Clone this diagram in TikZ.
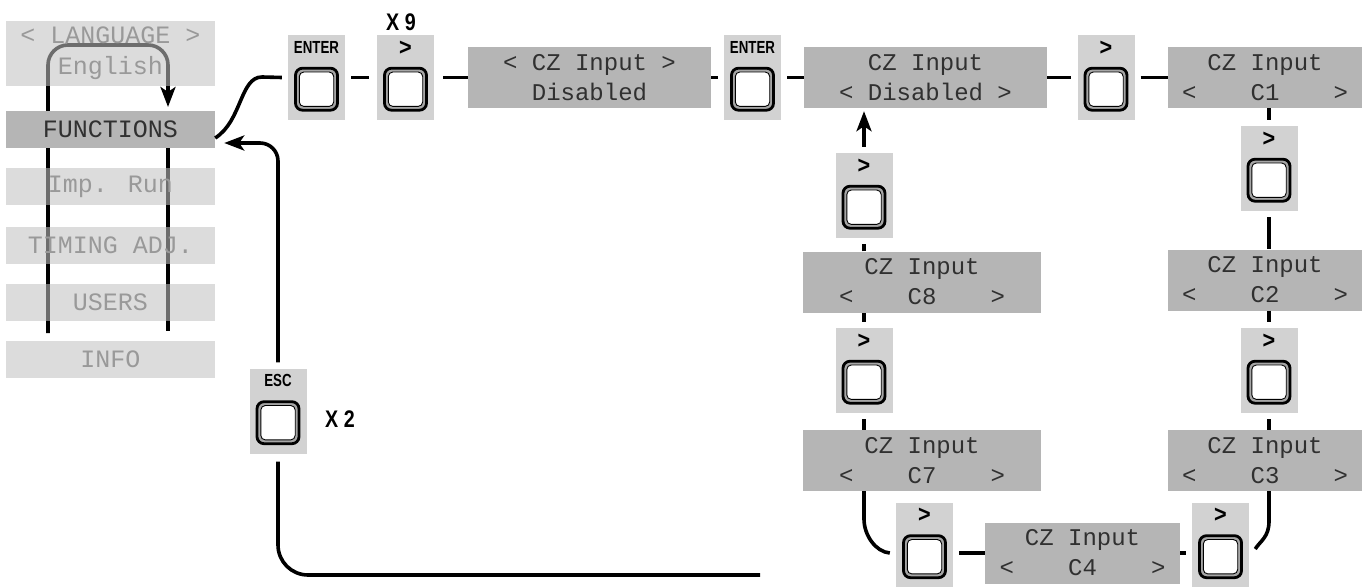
\documentclass[tikz,border=0pt]{standalone}
\usepackage{fontspec}
\usepackage{graphicx}
\setmainfont{Liberation Sans}
\newfontfamily\lcdfont{Liberation Mono}
\usetikzlibrary{arrows.meta}
\definecolor{menubg}{HTML}{C1C1C1}
\definecolor{lcdbg}{HTML}{B5B5B5}
\definecolor{btnbg}{HTML}{D2D2D2}
\definecolor{lcdtxt}{HTML}{303030}
\definecolor{dimtxt}{HTML}{999999}
\newcommand\mybtn[3]{%
  \node[btnbox, label={[btnlab]north:#3}] (#1) at (#2) {};
  \node[btnface] (#1f) at ([yshift=31pt]#1.south) {};}
\newcommand\wordlab[1]{\scalebox{0.76}[1]{\fontsize{17.5}{17}\selectfont #1}}
\newcommand\arrlab{\scalebox{0.9}[1]{\fontsize{24}{17}\selectfont >}}
\newcommand\lcdrow[1]{\makebox[166pt]{<\hfill #1\hfill >}}
\begin{document}
\begin{tikzpicture}[x=1pt,y=-1pt,
  wire/.style={line width=3.6pt, draw=black},
  menubox/.style={fill=menubg, fill opacity=0.57, text opacity=1, minimum width=209pt, minimum height=37pt, inner sep=0pt, text=dimtxt, font=\lcdfont\fontsize{25}{31}\selectfont, align=center},
  funcbox/.style={menubox, fill=lcdbg, fill opacity=1, text=lcdtxt},
  lcdbox/.style={fill=lcdbg, minimum height=61pt, inner sep=0pt, text=lcdtxt, font=\lcdfont\fontsize{24}{30}\selectfont, align=center},
  btnbox/.style={fill=btnbg, minimum width=57pt, minimum height=85pt, inner sep=0pt},
  btnlab/.style={anchor=north, inner sep=0pt, yshift=-6pt, font=\bfseries},
  btnface/.style={draw=black, line width=2.8pt, fill=black!35, rounded corners=7pt, minimum width=42pt, minimum height=42pt, inner sep=0pt,
    path picture={\filldraw[fill=white, draw=black, line width=0.9pt, rounded corners=4.5pt] ([shift={(3.8pt,3.8pt)}]path picture bounding box.south west) rectangle ([shift={(-3.8pt,-3.8pt)}]path picture bounding box.north east);}},
  count/.style={font=\bfseries\fontsize{24}{24}\selectfont, inner sep=0pt},
  tip/.style={-{Stealth[length=20pt,width=15pt,inset=5pt]}}
]
\useasboundingbox (0,0) rectangle (1370,586);

% menu lines (under the menu boxes)
\coordinate (mlb) at (48,333);
\coordinate (mtop) at (168,45);
\coordinate (mtip) at (168,107);
\coordinate (mrt) at (168,148);
\coordinate (mrb) at (168,331);
\draw[wire, rounded corners=20pt, tip] (mlb) |- (mtop) -- (mtip);
\draw[wire] (mrt) -- (mrb);

% menu
\node[menubox, minimum height=65pt] (lang) at (110.5,53.5) {< LANGUAGE >\\English};
\node[funcbox] (func) at (110.5,129.5) {FUNCTIONS};
\node[menubox] (imp) at (110.5,186.5) {Imp. Run};
\node[menubox] (tim) at (110.5,245) {TIMING ADJ.};
\node[menubox] (usr) at (110.5,302) {USERS};
\node[menubox] (inf) at (110.5,359.5) {INFO};

% top row
\mybtn{e1}{316.5,77.5}{\wordlab{ENTER}}
\mybtn{n9}{405.5,77.5}{\arrlab}
\node[count] (x9) at (401,22) {\scalebox{0.82}[1]{X 9}};
\node[lcdbox, minimum width=243pt] (g1) at (589.5,77.5) {< CZ Input >\\Disabled};
\mybtn{e2}{752.5,77.5}{\wordlab{ENTER}}
\node[lcdbox, minimum width=243pt] (g2) at (925.5,77.5) {CZ Input\\< Disabled >};
\mybtn{n1}{1106,77.5}{\arrlab}
\node[lcdbox, minimum width=194pt] (c1) at (1265,77.5) {CZ Input\\\lcdrow{C1}};

% right column
\mybtn{r1}{1269,168.5}{\arrlab}
\node[lcdbox, minimum width=194pt] (c2) at (1265,280) {CZ Input\\\lcdrow{C2}};
\mybtn{r2}{1269,370.5}{\arrlab}
\node[lcdbox, minimum width=194pt] (c3) at (1265,460.5) {CZ Input\\\lcdrow{C3}};

% bottom row
\mybtn{r3}{1220.5,545}{\arrlab}
\node[lcdbox, minimum width=195pt] (c4) at (1082.5,553) {CZ Input\\\lcdrow{C4}};
\mybtn{b1}{924.5,545}{\arrlab}

% left column
\node[lcdbox, minimum width=238pt] (c7) at (922,460.5) {CZ Input\\\lcdrow{C7}};
\mybtn{l2}{864,370.5}{\arrlab}
\node[lcdbox, minimum width=238pt] (c8) at (922,282) {CZ Input\\\lcdrow{C8}};
\mybtn{l1}{864,195.5}{\arrlab}

% esc
\mybtn{esc}{278,411}{\wordlab{ESC}}
\node[count] (x2) at (340,419) {\scalebox{0.82}[1]{X 2}};

% connectors, top row
\draw[wire] ([yshift=-8.5pt]func.east) .. controls (242,121) and (240,77) .. (262,77) -- ([xshift=-6pt]e1.west);
\draw[wire] ([xshift=6pt]e1.east) -- ([xshift=-8pt]n9.west);
\draw[wire] ([xshift=9pt]n9.east) -- (g1.west);
\draw[wire] (g1.east) -- ([xshift=-6pt]e2.west);
\draw[wire] ([xshift=6pt]e2.east) -- (g2.west);
\draw[wire] (g2.east) -- ([xshift=-6pt]n1.west);
\draw[wire] ([xshift=6pt]n1.east) -- (c1.west);

% right column
\draw[wire] (r1.north |- c1.south) -- ([yshift=6pt]r1.north);
\draw[wire] ([yshift=-6pt]r1.south) -- (r1.south |- c2.north);
\draw[wire] (r2.north |- c2.south) -- ([yshift=6pt]r2.north);
\draw[wire] ([yshift=-6pt]r2.south) -- (r2.south |- c3.north);
\draw[wire] (r2.south |- c3.south) -- ++(0,30) .. controls +(0,16) and +(5,-8) .. ([xshift=6pt,yshift=-4pt]r3.east);

% bottom row
\draw[wire] (c4.east) -- ([xshift=-6pt]r3.west |- c4.east);
\draw[wire] ([xshift=6pt]b1.east |- c4.west) -- (c4.west);
\draw[wire] (l2.south |- c7.south) -- ++(0,28) .. controls +(0,16) and +(-14,-1) .. ([xshift=-6pt,yshift=-8pt]b1.west);

% left column
\draw[wire] (l2.south |- c7.north) -- ([yshift=-6pt]l2.south);
\draw[wire] ([yshift=6pt]l2.north) -- (l2.north |- c8.south);
\draw[wire] (l1.south |- c8.north) -- ([yshift=-6pt]l1.south);
\draw[wire, tip] ([yshift=6pt]l1.north) -- ([yshift=-3pt]l1.north |- g2.south);

% return path
\coordinate (rt) at (760,575);
\draw[wire, rounded corners=30pt] (rt) -| ([yshift=-8pt]esc.south);
\draw[wire, tip, rounded corners=18pt] ([yshift=6pt]esc.north) |- ([xshift=9pt,yshift=-13.5pt]func.east);
\end{tikzpicture}
\end{document}
